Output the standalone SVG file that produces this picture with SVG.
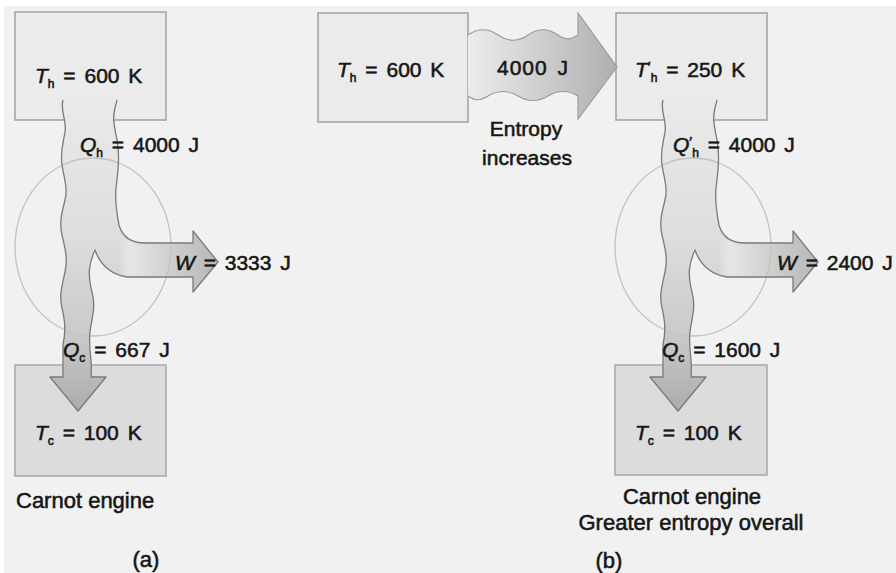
<svg xmlns="http://www.w3.org/2000/svg" xmlns:xlink="http://www.w3.org/1999/xlink" width="896" height="573" viewBox="0 0 896 573">
  <style>
    .hot { fill: #ebebeb; stroke: #a6a6a6; stroke-width: 1.6; }
    .cold { fill: #dcdcdc; stroke: #ababab; stroke-width: 1.6; }
    .ring { fill: none; stroke: #c2c2c2; stroke-width: 1.3; }
    .edge { fill: none; stroke: #7a7a7a; stroke-width: 1.3; stroke-linejoin: round; }
    text { font-family: "Liberation Sans", Arial, sans-serif; fill: #161616; stroke: #161616; stroke-width: 0.55px; }
    .eq { font-size: 21px; word-spacing: 3px; }
    .it { font-style: italic; }
    .sub { font-size: 12px; }
    .prime { font-size: 15px; }
    .cap { font-size: 22px; }
  </style>
  <defs>
    <!-- vertical shading of the heat band: pale at the hot end, darker at the cold end -->
    <linearGradient id="bandV" gradientUnits="userSpaceOnUse" x1="0" y1="100" x2="0" y2="411">
      <stop offset="0" stop-color="#eaeaea"/>
      <stop offset="0.45" stop-color="#dddddd"/>
      <stop offset="0.75" stop-color="#cacaca"/>
      <stop offset="1" stop-color="#acacac"/>
    </linearGradient>
    <!-- horizontal shading of the work branch -->
    <linearGradient id="bandW" gradientUnits="userSpaceOnUse" x1="118" y1="0" x2="218" y2="0">
      <stop offset="0" stop-color="#e6e6e6" stop-opacity="0"/>
      <stop offset="0.12" stop-color="#e6e6e6" stop-opacity="1"/>
      <stop offset="1" stop-color="#b6b6b6"/>
    </linearGradient>
    <linearGradient id="flowH" gradientUnits="userSpaceOnUse" x1="468" y1="0" x2="617" y2="0">
      <stop offset="0" stop-color="#ececec"/>
      <stop offset="1" stop-color="#afafaf"/>
    </linearGradient>
    <!-- heat band: Qh in from the top, W out to the right, Qc down into the cold reservoir -->
    <path id="band" d="M63,100 C60,112 67,120 65,132 S60,152 62,165 S68,188 65,200 S59,222 62,235 S68,258 65,272 S59,295 62,308 S66,330 63,345 L63,377 L50,377 L78,411 L106,377 L91,377 C93,362 88,348 90,332 S96,308 92,292 S88,265 95,250 Q103,273 127,277 L193,277 L193,292 L218,262 L193,231 L193,243 L145,243 Q124,243 119,225 C116,210 115,200 116,188 S121,160 117,140 S112,118 117,100"/>
  </defs>

  <!-- page -->
  <rect width="896" height="573" fill="#f1f1f1"/>
  <rect width="896" height="6" fill="#ffffff"/>
  <rect width="4" height="573" fill="#ffffff"/>

  <!-- (a) reservoirs -->
  <g id="hot-a">
    <rect class="hot" x="15" y="12" width="151" height="108"/>
  </g>
  <g id="cold-a">
    <rect class="cold" x="15" y="365" width="151" height="111"/>
  </g>

  <!-- (b) reservoirs -->
  <g id="source-b">
    <rect class="hot" x="318" y="13" width="150" height="109"/>
  </g>
  <g id="hot-b">
    <rect class="hot" x="616" y="13" width="151" height="107"/>
  </g>
  <g id="cold-b">
    <rect class="cold" x="615" y="365" width="152" height="110"/>
  </g>

  <!-- heat flows -->
  <g id="connectors">
    <g id="flow-a">
      <use xlink:href="#band" fill="url(#bandV)"/>
      <use xlink:href="#band" fill="url(#bandW)"/>
    </g>
    <g id="flow-b" transform="translate(600,0)">
      <use xlink:href="#band" fill="url(#bandV)"/>
      <use xlink:href="#band" fill="url(#bandW)"/>
    </g>
    <path id="transfer-b" d="M468,35 C478,28 488,28 498,35 S518,42 528,35 S548,28 558,35 S572,38 578,35 L578,13 L617,67 L578,119 L578,96 C568,90 558,90 548,96 S528,102 518,96 S498,90 488,96 S474,100 468,96" fill="url(#flowH)" stroke="#9a9a9a" stroke-width="1.1"/>
  </g>

  <!-- engines -->
  <g id="engine-a">
    <ellipse class="ring" cx="93" cy="247" rx="78" ry="89"/>
  </g>
  <g id="engine-b">
    <ellipse class="ring" cx="693" cy="247" rx="78" ry="89"/>
  </g>

  <!-- band outlines -->
  <use xlink:href="#band" class="edge"/>
  <use xlink:href="#band" class="edge" transform="translate(600,0)"/>

  <!-- labels (a) -->
  <text class="eq" x="35" y="83"><tspan class="it">T</tspan><tspan class="sub" dy="5">h</tspan><tspan dy="-5"> = 600 K</tspan></text>
  <text class="eq" x="80" y="152"><tspan class="it">Q</tspan><tspan class="sub" dy="5">h</tspan><tspan dy="-5"> = 4000 J</tspan></text>
  <text class="eq" x="175" y="270"><tspan class="it">W</tspan> = 3333 J</text>
  <text class="eq" x="63" y="357"><tspan class="it">Q</tspan><tspan class="sub" dy="5">c</tspan><tspan dy="-5"> = 667 J</tspan></text>
  <text class="eq" x="35" y="440"><tspan class="it">T</tspan><tspan class="sub" dy="5">c</tspan><tspan dy="-5"> = 100 K</tspan></text>
  <text class="cap" x="16" y="508">Carnot engine</text>
  <text class="cap" x="146" y="567" text-anchor="middle">(a)</text>

  <!-- labels (b) -->
  <text class="eq" x="337" y="77"><tspan class="it">T</tspan><tspan class="sub" dy="5">h</tspan><tspan dy="-5"> = 600 K</tspan></text>
  <text class="eq" x="497" y="75" letter-spacing="1">4000 J</text>
  <text class="eq" x="526" y="136" text-anchor="middle">Entropy</text>
  <text class="eq" x="527" y="165" text-anchor="middle">increases</text>
  <text class="eq" x="635" y="77"><tspan class="it">T</tspan><tspan class="prime" dy="-5">′</tspan><tspan class="sub" dy="10">h</tspan><tspan dy="-5"> = 250 K</tspan></text>
  <text class="eq" x="673" y="152"><tspan class="it">Q</tspan><tspan class="prime" dy="-5">′</tspan><tspan class="sub" dy="10">h</tspan><tspan dy="-5"> = 4000 J</tspan></text>
  <text class="eq" x="777" y="270"><tspan class="it">W</tspan> = 2400 J</text>
  <text class="eq" x="662" y="357"><tspan class="it">Q</tspan><tspan class="sub" dy="5">c</tspan><tspan dy="-5"> = 1600 J</tspan></text>
  <text class="eq" x="635" y="440"><tspan class="it">T</tspan><tspan class="sub" dy="5">c</tspan><tspan dy="-5"> = 100 K</tspan></text>
  <text class="cap" x="692" y="504" text-anchor="middle">Carnot engine</text>
  <text class="cap" x="691" y="530" text-anchor="middle">Greater entropy overall</text>
  <text class="cap" x="609" y="568" text-anchor="middle">(b)</text>
</svg>
